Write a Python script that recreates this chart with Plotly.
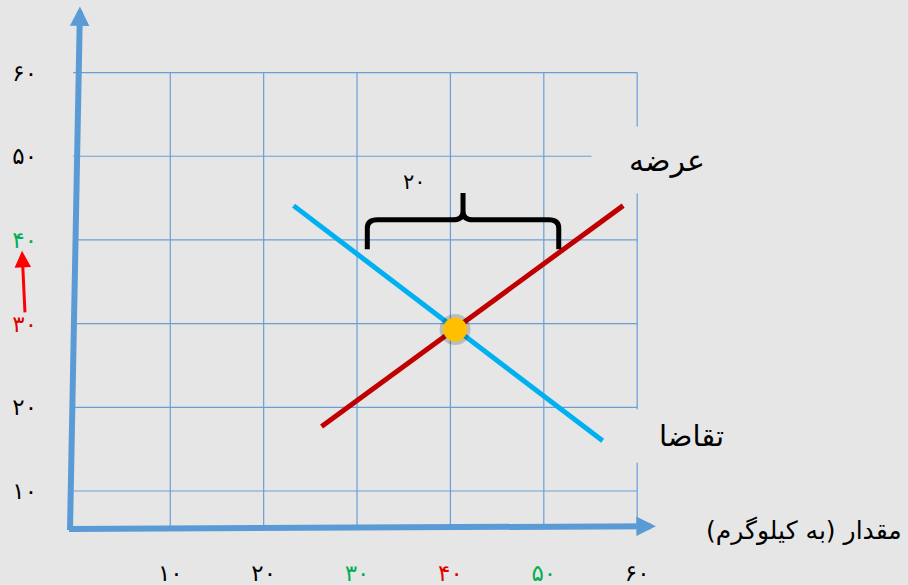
import plotly.graph_objects as go

# tick values and Persian labels
ticks = [10, 20, 30, 40, 50, 60]
tick_fa = ["۱۰", "۲۰", "۳۰", "۴۰", "۵۰", "۶۰"]
x_tick_colors = ["black", "black", "#00b050", "#e00000", "#00b050", "black"]
y_tick_colors = ["black", "black", "#e00000", "#00b050", "black", "black"]

# supply (عرضه) and demand (تقاضا) lines
supply_q = [26.2, 58.5]
supply_p = [17.7, 44.1]
demand_q = [23.2, 56.3]
demand_p = [44.1, 16.0]
equilibrium_q = [40.5]
equilibrium_p = [29.3]

# shortage brace at price 40: from demand (30) to supply (50)
brace_q = [31.1, 51.6]
brace_p = [38.9, 42.4, 45.6]   # foot, bar, tip
brace_label = "۲۰"

BG = "#e6e6e6"
AXIS = "#5b9bd5"
GRID = "#6a9fd6"
FONT = "DejaVu Sans"


def colored(labels, colors):
    return ["<span style='color:%s'>%s</span>" % (c, t) for t, c in zip(labels, colors)]


def brace_path(q0, q1, p_foot, p_bar, p_tip, rq=1.1, rp=1.0):
    qm = (q0 + q1) / 2
    pts = [
        "M %s,%s" % (q0, p_foot),
        "L %s,%s" % (q0, p_bar - rp),
        "Q %s,%s %s,%s" % (q0, p_bar, q0 + rq, p_bar),
        "L %s,%s" % (qm - rq, p_bar),
        "Q %s,%s %s,%s" % (qm, p_bar, qm, p_bar + rp),
        "L %s,%s" % (qm, p_tip),
        "M %s,%s" % (qm, p_bar + rp),
        "Q %s,%s %s,%s" % (qm, p_bar, qm + rq, p_bar),
        "L %s,%s" % (q1 - rq, p_bar),
        "Q %s,%s %s,%s" % (q1, p_bar, q1, p_bar - rp),
        "L %s,%s" % (q1, p_foot),
    ]
    return " ".join(pts)


fig = go.Figure()

fig.add_trace(go.Scatter(x=supply_q, y=supply_p, mode="lines",
                         line=dict(color="#c00000", width=5), hoverinfo="skip"))
fig.add_trace(go.Scatter(x=demand_q, y=demand_p, mode="lines",
                         line=dict(color="#00b0f0", width=5), hoverinfo="skip"))
# soft shadow then the yellow dot
fig.add_trace(go.Scatter(x=equilibrium_q, y=equilibrium_p, mode="markers",
                         marker=dict(size=31, color="rgba(0,0,0,0.18)", line=dict(width=0)),
                         hoverinfo="skip"))
fig.add_trace(go.Scatter(x=equilibrium_q, y=equilibrium_p, mode="markers",
                         marker=dict(size=24, color="#ffc000", line=dict(width=0)),
                         hoverinfo="skip"))

x_floor = 5.46   # where the quantity axis sits
y_wall = -0.4    # where the price axis sits
shapes = []
for t in ticks:
    shapes.append(dict(type="line", xref="x", yref="y", x0=t, x1=t, y0=x_floor, y1=ticks[-1],
                       line=dict(color=GRID, width=1.2), layer="below"))
    shapes.append(dict(type="line", xref="x", yref="y", x0=y_wall, x1=ticks[-1], y0=t, y1=t,
                       line=dict(color=GRID, width=1.2), layer="below"))
shapes.append(dict(type="path", xref="x", yref="y",
                   path=brace_path(brace_q[0], brace_q[1], *brace_p),
                   line=dict(color="black", width=5)))

annotations = [
    # price axis arrow
    dict(x=0.33, y=67.9, ax=-0.74, ay=x_floor - 0.3, xref="x", yref="y", axref="x", ayref="y",
         showarrow=True, arrowhead=2, arrowsize=0.65, arrowwidth=6, arrowcolor=AXIS, text=""),
    # quantity axis arrow
    dict(x=62.0, y=5.8, ax=-1.0, ay=x_floor, xref="x", yref="y", axref="x", ayref="y",
         showarrow=True, arrowhead=2, arrowsize=0.65, arrowwidth=6, arrowcolor=AXIS, text=""),
    # red arrow next to the price labels
    dict(x=-0.0326, y=38.7, xref="paper", yref="y", ax=3, ay=63, axref="pixel", ayref="pixel",
         showarrow=True, arrowhead=2, arrowsize=1.1, arrowwidth=3, arrowcolor="#ff0000", text=""),
    dict(x=61.27, y=49.55, xref="x", yref="y", text="عرضه", showarrow=False,
         width=112, height=64, align="right", bgcolor=BG,
         font=dict(family=FONT, size=30, color="black")),
    dict(x=63.63, y=16.57, xref="x", yref="y", text="تقاضا", showarrow=False,
         width=106, height=50, align="right", bgcolor=BG,
         font=dict(family=FONT, size=29, color="black")),
    dict(x=88.6, y=5.3, xref="x", yref="y", xanchor="right", text="مقدار (به کیلوگرم)",
         showarrow=False, font=dict(family=FONT, size=25, color="black")),
    dict(x=36.2, y=46.9, xref="x", yref="y", text=brace_label, showarrow=False,
         font=dict(family=FONT, size=21, color="black")),
]

fig.update_layout(
    width=908, height=585,
    margin=dict(l=50, r=0, t=0, b=40),
    paper_bgcolor=BG, plot_bgcolor=BG,
    showlegend=False,
    shapes=shapes,
    annotations=annotations,
    font=dict(family=FONT, size=23, color="black"),
    xaxis=dict(range=[-2.88, 89.0], tickvals=ticks, ticktext=colored(tick_fa, x_tick_colors),
               showgrid=False, zeroline=False, showline=False, ticks="",
               ticklabelstandoff=12, tickfont=dict(family=FONT, size=23)),
    yaxis=dict(range=[3.55, 68.67], tickvals=ticks, ticktext=colored(tick_fa, y_tick_colors),
               showgrid=False, zeroline=False, showline=False, ticks="",
               ticklabelstandoff=12, tickfont=dict(family=FONT, size=23)),
)

# drop the default page margin so the figure fills the window exactly
fig.write_html("out.html", config={"displayModeBar": False},
               post_script="document.body.style.margin='0';")
